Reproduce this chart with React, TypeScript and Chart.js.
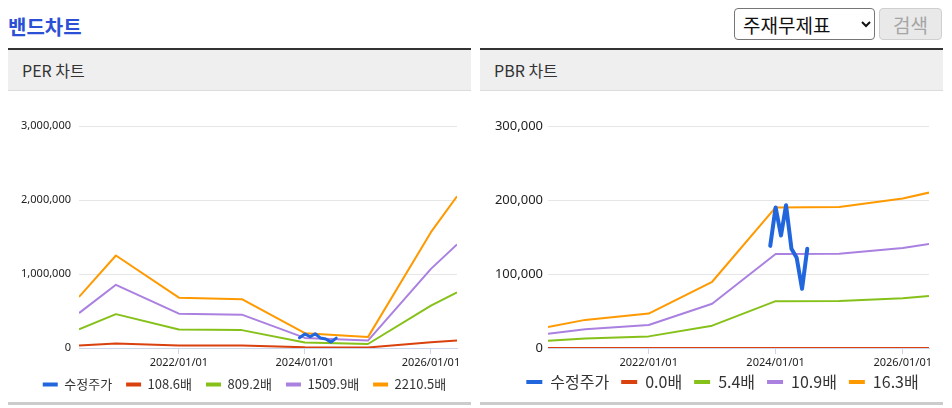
import React, { useEffect, useRef } from 'react';
import { Chart, registerables } from 'chart.js';

Chart.register(...registerables);

// ---- data ----
const bandDates = ['2020-06-01', '2021-01-01', '2022-01-01', '2023-01-01', '2024-01-01', '2025-01-01', '2026-01-01', '2026-06-01'];
const priceDates = ['2023-12-01', '2024-01-01', '2024-02-01', '2024-03-01', '2024-04-01', '2024-05-01', '2024-06-01', '2024-07-01'];
const adjPrice = [138000, 190000, 152000, 193000, 134000, 122000, 80000, 134000];

const perLabels = ['108.6배', '809.2배', '1509.9배', '2210.5배'];
const per108 = [33900, 61400, 33400, 32400, 9800, 7200, 76900, 100700];
const per809 = [252600, 457600, 248900, 241600, 73200, 53800, 572900, 750500];
const per1509 = [471300, 853900, 464500, 450800, 136600, 100400, 1069000, 1400300];
const per2210 = [690000, 1250000, 680000, 660000, 200000, 147000, 1565000, 2050000];

const pbrLabels = ['0.0배', '5.4배', '10.9배', '16.3배'];
const pbr00 = [0, 0, 0, 0, 0, 0, 0, 0];
const pbr54 = [9800, 12800, 15700, 30200, 63300, 63400, 67100, 70300];
const pbr109 = [19100, 25400, 31100, 59800, 127000, 127400, 135100, 140400];
const pbr163 = [28500, 38000, 46500, 89500, 190000, 190500, 202000, 210000];

const xTickDates = ['2022-01-01', '2024-01-01', '2026-01-01'];
const perTicks = [0, 1000000, 2000000, 3000000];
const pbrTicks = [0, 100000, 200000, 300000];

const priceLabel = '수정주가';
const COLORS = ['#2266dd', '#d9410f', '#86c11a', '#aa80e0', '#ff9900'];

const ts = (s: string) => Date.parse(s + 'T00:00:00Z');
const pad2 = (n: number) => (n < 10 ? '0' : '') + n;
const fmtDate = (v: number) => {
  const d = new Date(v);
  return d.getUTCFullYear() + '/' + pad2(d.getUTCMonth() + 1) + '/' + pad2(d.getUTCDate());
};

const legendShift = {
  id: 'legendShift',
  afterLayout(chart: any, _args: any, opts: any) {
    const l = chart.legend;
    if (!l) return;
    l.top -= opts.dy || 0;
    l.bottom -= opts.dy || 0;
    l.left += opts.dx || 0;
    l.right += opts.dx || 0;
  },
};

type Props = {
  bandLabels: string[];
  bands: number[][];
  yTicks: number[];
  yWidth: number;
  yFont: number;
  yPad: number;
  legendFont: number;
  legendPad: number;
  legendBoxW: number;
  legendDx: number;
  legendDy: number;
  priceWidth: number;
  width: number;
  height: number;
};

function BandChart(p: Props) {
  const ref = useRef<HTMLCanvasElement | null>(null);
  useEffect(() => {
    if (!ref.current) return;
    const datasets: any[] = [
      {
        label: priceLabel,
        data: priceDates.map((d, i) => ({ x: ts(d), y: adjPrice[i] })),
        borderColor: COLORS[0],
        backgroundColor: COLORS[0],
        borderWidth: p.priceWidth,
        pointRadius: 0,
        borderJoinStyle: 'round',
        borderCapStyle: 'round',
      },
      ...p.bands.map((b, k) => ({
        label: p.bandLabels[k],
        data: bandDates.map((d, i) => ({ x: ts(d), y: b[i] })),
        borderColor: COLORS[k + 1],
        backgroundColor: COLORS[k + 1],
        borderWidth: 2,
        pointRadius: 0,
        borderJoinStyle: 'round',
      })),
    ];
    const chart = new Chart(ref.current, {
      type: 'line',
      data: { datasets },
      plugins: [legendShift],
      options: {
        animation: false,
        responsive: false,
        devicePixelRatio: 1,
        layout: { padding: { left: 0, top: 35, right: 14, bottom: 0 } },
        scales: {
          x: {
            type: 'linear',
            min: ts(bandDates[0]),
            max: ts(bandDates[bandDates.length - 1]),
            afterBuildTicks: (s: any) => {
              s.ticks = xTickDates.map((d) => ({ value: ts(d) }));
            },
            afterFit: (s: any) => {
              s.height = 21;
            },
            ticks: {
              callback: (v: any) => fmtDate(Number(v)),
              font: { size: 11, family: '"Noto Sans", "Noto Sans CJK KR", sans-serif' },
              color: '#222',
              padding: 2,
              maxRotation: 0,
              autoSkip: false,
            },
            grid: { drawOnChartArea: false, drawTicks: true, tickLength: 6, color: '#ccd6eb' },
            border: { display: true, color: '#ccd6eb', width: 1 },
          },
          y: {
            type: 'linear',
            min: 0,
            max: p.yTicks[p.yTicks.length - 1],
            afterBuildTicks: (s: any) => {
              s.ticks = p.yTicks.map((v) => ({ value: v }));
            },
            afterFit: (s: any) => {
              s.width = p.yWidth;
            },
            ticks: {
              callback: (v: any) => Number(v).toLocaleString('en-US'),
              font: { size: p.yFont, family: '"Noto Sans", "Noto Sans CJK KR", sans-serif' },
              color: '#222',
              padding: p.yPad,
            },
            grid: {
              color: (ctx: any) => (ctx.tick && ctx.tick.value === 0 ? '#ccd6eb' : '#e6e6e6'),
              drawTicks: false,
            },
            border: { display: false },
          },
        },
        plugins: {
          tooltip: { enabled: false },
          legendShift: { dx: p.legendDx, dy: p.legendDy },
          legend: {
            position: 'bottom',
            labels: {
              boxWidth: p.legendBoxW,
              boxHeight: 4,
              padding: p.legendPad,
              color: '#333',
              font: { size: p.legendFont, family: '"Noto Sans CJK KR", "Noto Sans", sans-serif' },
              generateLabels: (c: any) =>
                (Chart.defaults.plugins.legend.labels.generateLabels as any)(c).map((l: any) => ({
                  ...l,
                  lineWidth: 0,
                })),
            },
          },
        },
      } as any,
    });
    return () => chart.destroy();
  }, []);
  return <canvas ref={ref} width={p.width} height={p.height} style={{ display: 'block' }} />;
}

const font = '"Noto Sans CJK KR", "Noto Sans", sans-serif';

function Panel(props: { left: number; title: string; children: any }) {
  return (
    <div style={{ position: 'absolute', left: props.left, top: 48, width: 463, height: 357 }}>
      <div style={{ position: 'absolute', left: 0, top: 43 }}>{props.children}</div>
      <div style={{ position: 'absolute', left: 0, top: 0, width: 463, height: 2, background: '#333' }} />
      <div
        style={{
          position: 'absolute',
          left: 0,
          top: 2,
          width: 463,
          height: 40,
          background: '#efefef',
          borderBottom: '1px solid #dcdcdc',
        }}
      >
        <div
          style={{
            position: 'absolute',
            left: 14,
            top: 0,
            height: 40,
            lineHeight: '40px',
            fontFamily: font,
            fontSize: 16,
            color: '#333',
          }}
        >
          {props.title}
        </div>
      </div>
      <div style={{ position: 'absolute', left: 0, top: 354, width: 463, height: 3, background: '#cccccc' }} />
    </div>
  );
}

export default function App() {
  return (
    <div style={{ position: 'absolute', left: 0, top: 0, width: 952, height: 408, background: '#fff', overflow: 'hidden' }}>
      <div
        style={{
          position: 'absolute',
          left: 8,
          top: 13,
          fontFamily: font,
          fontWeight: 700,
          fontSize: 20,
          color: '#2b50d6',
          lineHeight: '28px',
        }}
      >
        밴드차트
      </div>
      <select
        defaultValue="a"
        style={{
          position: 'absolute',
          left: 734,
          top: 8,
          width: 141,
          height: 32,
          fontFamily: font,
          fontSize: 19,
          border: '1px solid #767676',
          borderRadius: 4,
          background: '#fff',
          color: '#111',
          paddingLeft: 4,
        }}
      >
        <option value="a">주재무제표</option>
      </select>
      <button
        style={{
          position: 'absolute',
          left: 879,
          top: 8,
          width: 63,
          height: 32,
          fontFamily: font,
          fontSize: 19,
          border: '1px solid #cfcfcf',
          borderRadius: 4,
          background: '#e9e9e9',
          color: '#a5a5a5',
          padding: 0,
        }}
      >
        검색
      </button>
      <Panel left={8} title="PER 차트">
        <BandChart
          bandLabels={perLabels}
          bands={[per108, per809, per1509, per2210]}
          yTicks={perTicks}
          yWidth={71}
          yFont={11}
          yPad={8}
          legendFont={13}
          legendPad={14}
          legendBoxW={15}
          legendDx={12}
          legendDy={5}
          priceWidth={3}
          width={463}
          height={315}
        />
      </Panel>
      <Panel left={480} title="PBR 차트">
        <BandChart
          bandLabels={pbrLabels}
          bands={[pbr00, pbr54, pbr109, pbr163]}
          yTicks={pbrTicks}
          yWidth={68}
          yFont={13}
          yPad={5}
          legendFont={16}
          legendPad={12}
          legendBoxW={16}
          legendDx={18}
          legendDy={7}
          priceWidth={4}
          width={463}
          height={316}
        />
      </Panel>
    </div>
  );
}
